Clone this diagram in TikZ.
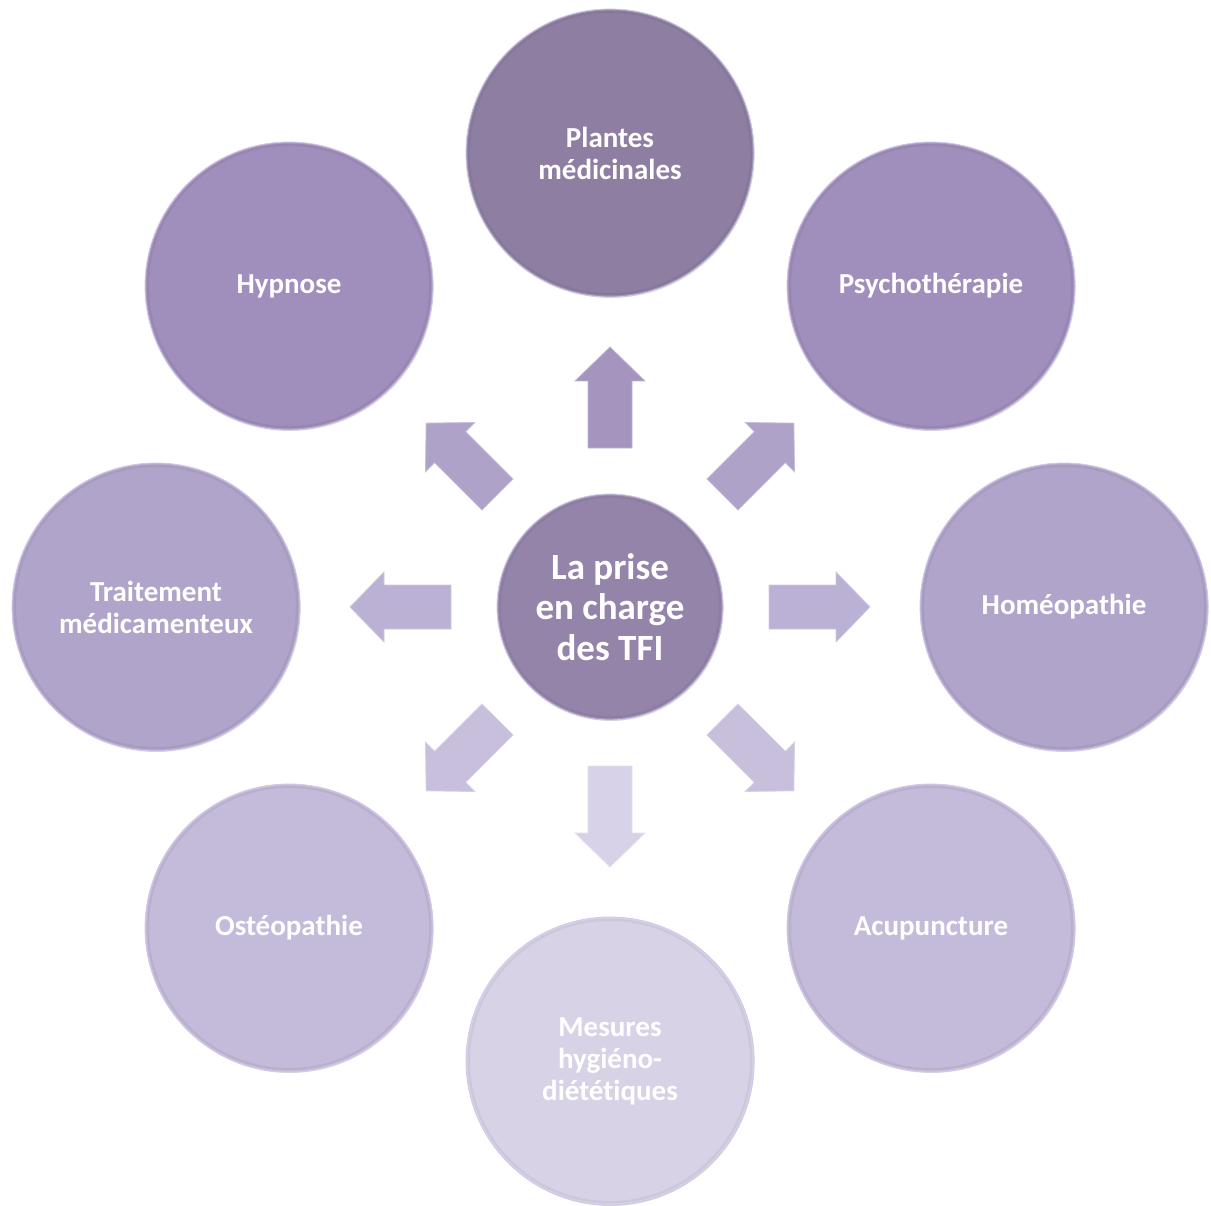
\documentclass[tikz,border=0pt]{standalone}
\usepackage{fontspec}
\setmainfont{Carlito}[Ligatures=NoCommon]
\usetikzlibrary{shadows}
\definecolor{cCenter}{HTML}{9484AA}
\definecolor{cN}{HTML}{8E7FA2}
\definecolor{cD1}{HTML}{A08EBC}
\definecolor{cH}{HTML}{B0A4CA}
\definecolor{cD2}{HTML}{C4BADA}
\definecolor{cS}{HTML}{D8D2E7}
\definecolor{aN}{HTML}{A595BE}
\definecolor{aD1}{HTML}{AFA2C9}
\definecolor{aH}{HTML}{BBB1D4}
\definecolor{aD2}{HTML}{C8BFDC}
\definecolor{aS}{HTML}{D8D2E8}
\definecolor{rim}{HTML}{D2C6F0}
\tikzset{
  bubble/.style={circle, inner sep=0pt, minimum size=#1, text=white, align=center,
    draw=rim, line width=0.8pt,
    drop shadow={shadow xshift=0.6pt, shadow yshift=-1pt, opacity=0.3, fill=black!50},
    path picture={
      \draw[line width=8pt, black, opacity=0.05] (path picture bounding box.center) circle (0.5*#1);
      \draw[line width=3pt, white, opacity=0.22] (path picture bounding box.center) circle (0.5*#1);
    }},
  outer/.style={bubble=288pt, font=\bfseries\fontsize{29}{32}\selectfont},
  hub/.style={bubble=226pt, font=\bfseries\fontsize{37}{40.5}\selectfont},
  blockarrow/.style={fill=#1, draw=#1!70!white, line width=0.8pt, line join=miter},
}
\begin{document}
\begin{tikzpicture}[x=1pt,y=-1pt]
\useasboundingbox (0,0) rectangle (1211,1206);
\coordinate (C) at (610,607);
% arrows
\foreach \ang/\col in {90/aN,45/aD1,135/aD1,0/aH,180/aH,-45/aD2,-135/aD2,-90/aS}{
  \begin{scope}[shift={(C)}, rotate=\ang]
    \path[blockarrow=\col] (159,-22) -- (226,-22) -- (226,-35) -- (260,0)
      -- (226,35) -- (226,22) -- (159,22) -- cycle;
  \end{scope}
}
% hub
\node[hub, fill=cCenter] (hub) at (C) {La prise\\en charge\\des TFI};
% outer circles
\node[outer, fill=cN]  (plantes) at (610,153)  {Plantes\\médicinales};
\node[outer, fill=cD1] (psy)     at (931,286)  {Psychothérapie};
\node[outer, fill=cH]  (homeo)   at (1064,607) {Homéopathie};
\node[outer, fill=cD2] (acu)     at (931,928)  {Acupuncture};
\node[outer, fill=cS]  (mesures) at (610,1061) {Mesures\\hygiéno-\\diététiques};
\node[outer, fill=cD2] (osteo)   at (289,928)  {Ostéopathie};
\node[outer, fill=cH]  (trait)   at (156,607)  {Traitement\\médicamenteux};
\node[outer, fill=cD1] (hypno)   at (289,286)  {Hypnose};
\end{tikzpicture}
\end{document}
